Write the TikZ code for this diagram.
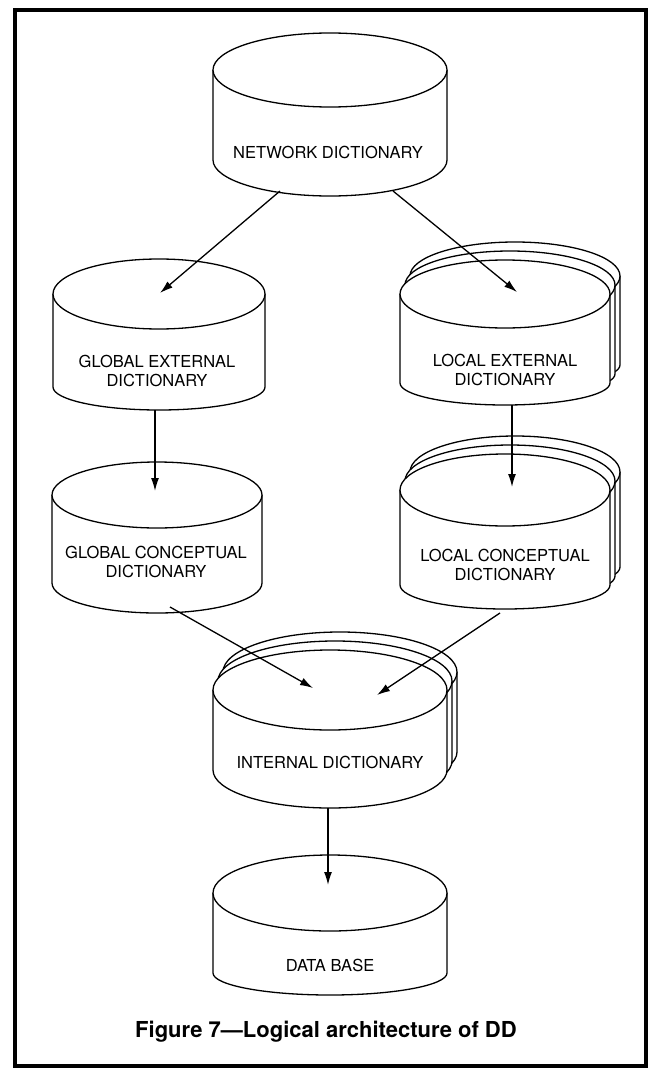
\documentclass[tikz,border=0pt]{standalone}
\usepackage{fontspec}
\setmainfont{TeX Gyre Heros}
\usetikzlibrary{arrows.meta}
\newcommand{\drawcyl}[6]{%
  \filldraw[cylline] ({#1-#3},{#2}) -- ({#1-#3},{#5}) arc[start angle=180,end angle=360,x radius=#3,y radius=#6] -- ({#1+#3},{#2}) arc[start angle=0,end angle=180,x radius=#3,y radius=#4] -- cycle;
  \draw[cylline] ({#1-#3},{#2}) arc[start angle=180,end angle=360,x radius=#3,y radius=#4];
}
\newcommand{\stackcyl}[6]{%
  \drawcyl{#1+10}{#2+18}{#3}{#4}{#5+18}{#6}
  \drawcyl{#1+5}{#2+9}{#3}{#4}{#5+9}{#6}
  \drawcyl{#1}{#2}{#3}{#4}{#5}{#6}
}
\tikzset{
  cylline/.style={line width=1.3pt, fill=white, draw=black, line join=round},
  arr/.style={line width=1.3pt, -{Latex[length=13pt,width=8pt]}},
  lbl/.style={font=\fontsize{16.5}{18.5}\selectfont, align=center, inner sep=0pt},
  frame/.style={line width=4pt}
}
\begin{document}
\begin{tikzpicture}[x=1pt,y=1pt]
\useasboundingbox (0,0) rectangle (655,-1070);
\fill[white] (0,0) rectangle (655,-1070);
\draw[frame] (15,-10) rectangle (646,-1066);

% cylinders
\drawcyl{330}{-70}{117}{37}{-160}{36}
\drawcyl{159}{-294}{106}{35}{-387}{23}
\drawcyl{157}{-495}{105}{33}{-583}{30}
\stackcyl{505}{-294}{105}{34}{-383}{22}
\stackcyl{505}{-490}{105}{36}{-585}{24}
\stackcyl{330}{-690}{117}{40}{-770}{38}
\drawcyl{330}{-893}{117}{38}{-973}{22}

% labels
\node[lbl] (net) at (328,-152) {NETWORK DICTIONARY};
\node[lbl] (gext) at (157,-371) {GLOBAL EXTERNAL\\DICTIONARY};
\node[lbl] (gcon) at (156,-562) {GLOBAL CONCEPTUAL\\DICTIONARY};
\node[lbl] (lext) at (505,-370) {LOCAL EXTERNAL\\DICTIONARY};
\node[lbl] (lcon) at (505,-565) {LOCAL CONCEPTUAL\\DICTIONARY};
\node[lbl] (int) at (330,-762) {INTERNAL DICTIONARY};
\node[lbl] (db) at (330,-965) {DATA BASE};
\node[font=\bfseries\fontsize{22}{24}\selectfont, inner sep=0pt] (cap) at (326,-1032) {Figure 7---Logical architecture of DD};

% connector end points
\coordinate (netA) at (280,-191);
\coordinate (netB) at (393,-191);
\coordinate (gextIn) at (160,-293);
\coordinate (lextIn) at (517,-292);
\coordinate (gextOut) at (155,-410);
\coordinate (gconIn) at (155,-491);
\coordinate (lextOut) at (512,-405);
\coordinate (lconIn) at (512,-487);
\coordinate (gconOut) at (170,-607);
\coordinate (lconOut) at (500,-613);
\coordinate (intInA) at (313,-688);
\coordinate (intInB) at (377,-695);
\coordinate (intOut) at (328,-808);
\coordinate (dbIn) at (328,-885);

\draw[arr] (netA) -- (gextIn);
\draw[arr] (netB) -- (lextIn);
\draw[arr] (gextOut) -- (gconIn);
\draw[arr] (lextOut) -- (lconIn);
\draw[arr] (gconOut) -- (intInA);
\draw[arr] (lconOut) -- (intInB);
\draw[arr] (intOut) -- (dbIn);
\end{tikzpicture}
\end{document}
